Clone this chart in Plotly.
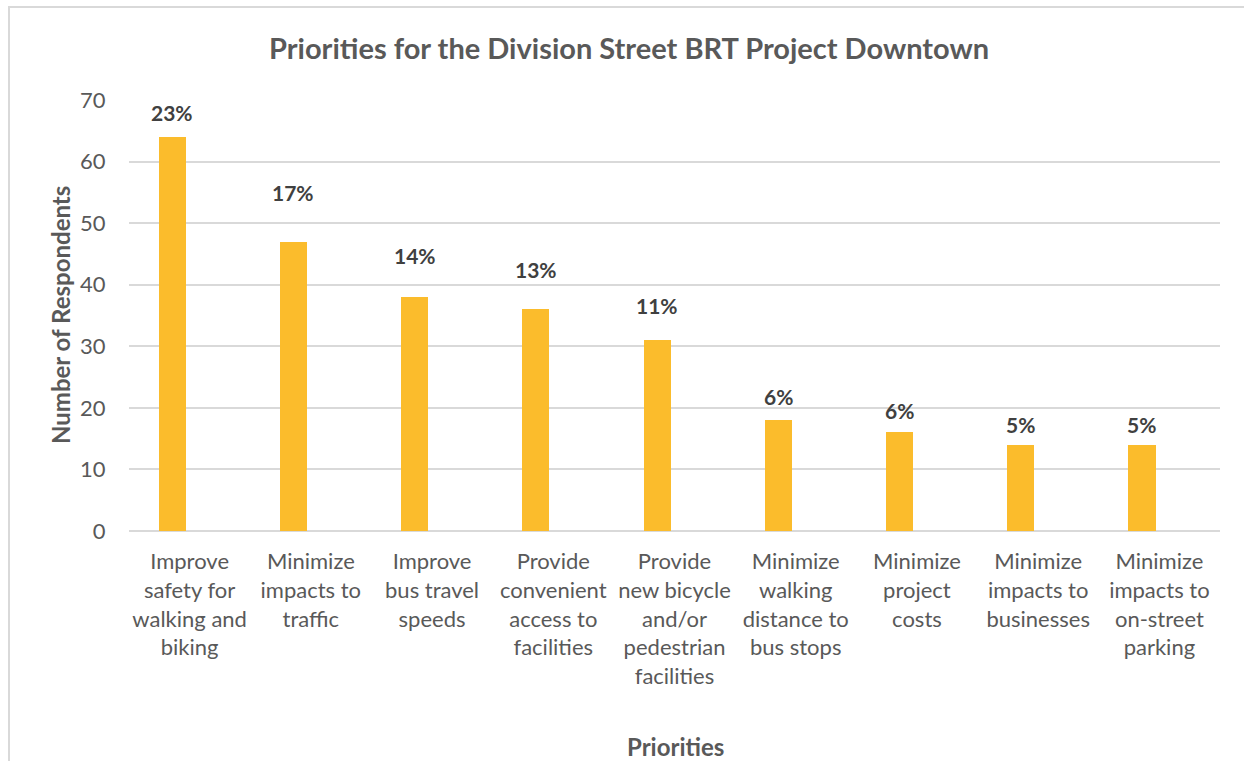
import plotly.graph_objects as go

# Survey results: number of respondents choosing each priority
categories = [
    "Improve<br>safety for<br>walking and<br>biking",
    "Minimize<br>impacts to<br>traffic",
    "Improve<br>bus travel<br>speeds",
    "Provide<br>convenient<br>access to<br>facilities",
    "Provide<br>new bicycle<br>and/or<br>pedestrian<br>facilities",
    "Minimize<br>walking<br>distance to<br>bus stops",
    "Minimize<br>project<br>costs",
    "Minimize<br>impacts to<br>businesses",
    "Minimize<br>impacts to<br>on-street<br>parking",
]
respondents = [64, 47, 38, 36, 31, 18, 16, 14, 14]
y_ticks = [0, 10, 20, 30, 40, 50, 60, 70]

total = sum(respondents)
shares = [v / total * 100 for v in respondents]

FONT = "Lato"
GREY = "#595959"
DARK = "#404040"
BAR = "#FBBC2C"
GRID = "#D9D9D9"

# plot-area geometry (pixels)
W, H = 1244, 761
L, R, T, B = 129, 24, 100, 230
pw, ph = W - L - R, H - T - B

x_idx = list(range(len(categories)))
bar_w = 0.223
bar_off = -0.255

fig = go.Figure()
fig.add_trace(go.Bar(
    x=x_idx,
    y=respondents,
    width=bar_w,
    offset=bar_off,
    marker=dict(color=BAR, line=dict(width=0)),
    hoverinfo="y",
    showlegend=False,
))

# percentage labels, positioned on a secondary share scale
share_top = 22.1
annotations = []
for i, s in enumerate(shares):
    xc = i + bar_off + bar_w / 2
    if s > share_top:
        yv, shift = share_top, -12
    else:
        yv, shift = s, 8.5
    annotations.append(dict(
        x=xc, y=yv, xref="x", yref="y2", text=f"{round(s)}%",
        showarrow=False, yanchor="middle", xanchor="center", yshift=shift,
        font=dict(family=FONT, size=21, color=DARK, weight="bold"),
    ))

def px_x(p):
    return (p - L) / pw

def px_y(p):
    return (H - B - p) / ph

annotations += [
    dict(text="Priorities for the Division Street BRT Project Downtown",
         x=px_x(629), y=px_y(48), xref="paper", yref="paper", showarrow=False,
         xanchor="center", yanchor="middle",
         font=dict(family=FONT, size=29, color=GREY, weight="bold")),
    dict(text="Number of Respondents", textangle=-90,
         x=px_x(60), y=px_y(315), xref="paper", yref="paper", showarrow=False,
         xanchor="center", yanchor="middle",
         font=dict(family=FONT, size=24, color=GREY, weight="bold")),
    dict(text="Priorities",
         x=px_x(675), y=px_y(746), xref="paper", yref="paper", showarrow=False,
         xanchor="center", yanchor="middle",
         font=dict(family=FONT, size=24, color=GREY, weight="bold")),
]

# outer chart border
shapes = [dict(
    type="rect", xref="paper", yref="paper",
    x0=px_x(9), x1=px_x(1262), y0=px_y(7), y1=px_y(790),
    line=dict(color=GRID, width=2), fillcolor="rgba(0,0,0,0)", layer="below",
)]

fig.update_layout(
    width=W, height=H,
    margin=dict(l=L, r=R, t=T, b=B, autoexpand=False),
    paper_bgcolor="white", plot_bgcolor="white",
    font=dict(family=FONT, color=GREY),
    bargap=0,
    xaxis=dict(
        range=[-0.5, len(categories) - 0.5],
        tickmode="array", tickvals=x_idx, ticktext=categories,
        tickfont=dict(family=FONT, size=22, color=GREY),
        showgrid=False, zeroline=False, showline=False,
        ticks="outside", ticklen=11, tickcolor="rgba(0,0,0,0)",
        fixedrange=True,
    ),
    yaxis=dict(
        range=[0, 70], tickmode="array", tickvals=y_ticks,
        tickfont=dict(family=FONT, size=22, color=GREY),
        showgrid=True, gridcolor=GRID, gridwidth=1.5,
        zeroline=True, zerolinecolor=GRID, zerolinewidth=1.5,
        showline=False,
        ticks="outside", ticklen=18, tickcolor="rgba(0,0,0,0)",
        fixedrange=True,
    ),
    yaxis2=dict(
        range=[0, share_top], overlaying="y", side="right",
        visible=False, showgrid=False, zeroline=False, fixedrange=True,
    ),
    annotations=annotations,
    shapes=shapes,
)

fig.write_html("out.html")
